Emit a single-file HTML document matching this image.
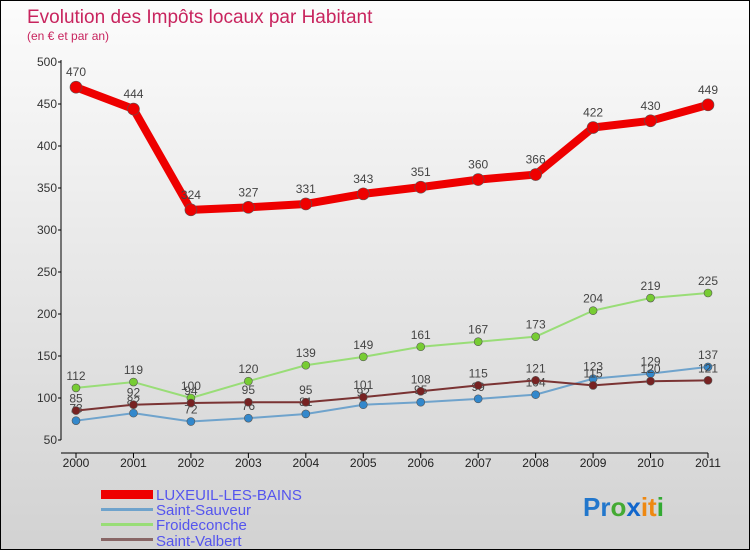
<!DOCTYPE html>
<html><head><meta charset="utf-8"><style>
html,body{margin:0;padding:0}
body{width:750px;height:550px;overflow:hidden;font-family:"Liberation Sans",sans-serif}
#wrap{position:relative;width:748px;height:548px;border:1px solid #000;background:linear-gradient(#fcfcfc,#d2d2d2)}
svg{position:absolute;left:0;top:0}
</style></head><body>
<div id="wrap">
<svg id="chart" width="750" height="550">
<text x="26" y="22" font-size="19" fill="#c8245e">Evolution des Impôts locaux par Habitant</text>
<text x="26" y="39" font-size="12" fill="#c8245e">(en € et par an)</text>
<g id="axes"></g><g id="series"></g>
<g font-size="15" fill="#5555ee">
<rect x="100" y="489" width="52" height="9" fill="#ee0000"/>
<text x="155" y="499">LUXEUIL-LES-BAINS</text>
<rect x="100" y="507" width="52" height="3" fill="#6fa3cc"/>
<text x="155" y="514">Saint-Sauveur</text>
<rect x="100" y="522" width="52" height="3" fill="#99dd77"/>
<text x="155" y="529">Froideconche</text>
<rect x="100" y="537" width="52" height="3" fill="#886666"/>
<text x="155" y="545">Saint-Valbert</text>
</g>
<g font-size="26" font-weight="bold"><text x="582" y="515"><tspan fill="#2277cc">Pr</tspan><tspan fill="#44aa33">o</tspan><tspan fill="#1166cc">x</tspan><tspan fill="#ee8811">it</tspan><tspan fill="#33aa33">i</tspan></text></g>
</svg></div>
<script>
const years=["2000","2001","2002","2003","2004","2005","2006","2007","2008","2009","2010","2011"];
const yTicks=[50,100,150,200,250,300,350,400,450,500];
const luxeuil=[470,444,324,327,331,343,351,360,366,422,430,449];
const sauveur=[73,82,72,76,81,92,95,99,104,123,129,137];
const froide=[112,119,100,120,139,149,161,167,173,204,219,225];
const valbert=[85,92,94,95,95,101,108,115,121,115,120,121];
const NS="http://www.w3.org/2000/svg";
const x0=75,x1=707,yTop=61,yBot=439,vMin=50,vMax=500;
function X(i){return x0+(x1-x0)*i/(years.length-1);}
function Y(v){return yBot-(v-vMin)*(yBot-yTop)/(vMax-vMin);}
function mk(tag,attrs,parent){const e=document.createElementNS(NS,tag);for(const k in attrs)e.setAttribute(k,attrs[k]);parent.appendChild(e);return e;}
const ax=document.getElementById('axes');
let l=mk('line',{x1:60,y1:yTop-2,x2:60,y2:yBot,stroke:'#000'},ax);


l=mk('line',{x1:60,y1:yBot+13,x2:x1,y2:yBot+13,stroke:'#000'},ax);


yTicks.forEach(v=>{
 mk('line',{x1:57,y1:Y(v),x2:60,y2:Y(v),stroke:'#000'},ax);
 const t=mk('text',{x:56,y:Y(v)+4,'text-anchor':'end','font-size':12,fill:'#333'},ax);t.textContent=v;
 
 
});
years.forEach((y,i)=>{
 mk('line',{x1:X(i),y1:yBot+13,x2:X(i),y2:yBot+18,stroke:'#000'},ax);
 const t=mk('text',{x:X(i),y:yBot+27,'text-anchor':'middle','font-size':12,fill:'#222'},ax);t.textContent=y;
 
 
});
const sg=document.getElementById('series');
function draw(data,name,color,w,r,dot){
 const g=mk('g',{},sg);
 
 
 const p=mk('polyline',{points:data.map((v,i)=>X(i)+','+Y(v)).join(' '),fill:'none',stroke:color,'stroke-width':w,'stroke-linejoin':'round'},g);
 
 
 data.forEach((v,i)=>{
  const c=mk('circle',{cx:X(i),cy:Y(v),r:r,fill:dot,stroke:'#555','stroke-width':0.6},g);
  
  
  const t=mk('text',{x:X(i),y:Y(v)-(w>4?11:8),'text-anchor':'middle','font-size':12,fill:'#444'},g);t.textContent=v;
  
  
 });
}
draw(froide,'froideconche','#99dd77',2,4,'#77cc33');
draw(sauveur,'saint-sauveur','#6fa3cc',2,4,'#3388cc');
draw(valbert,'saint-valbert','#7a3333',2,4,'#772222');
draw(luxeuil,'luxeuil-les-bains','#ee0000',8,6,'#ee0000');
</script>
</body></html>
